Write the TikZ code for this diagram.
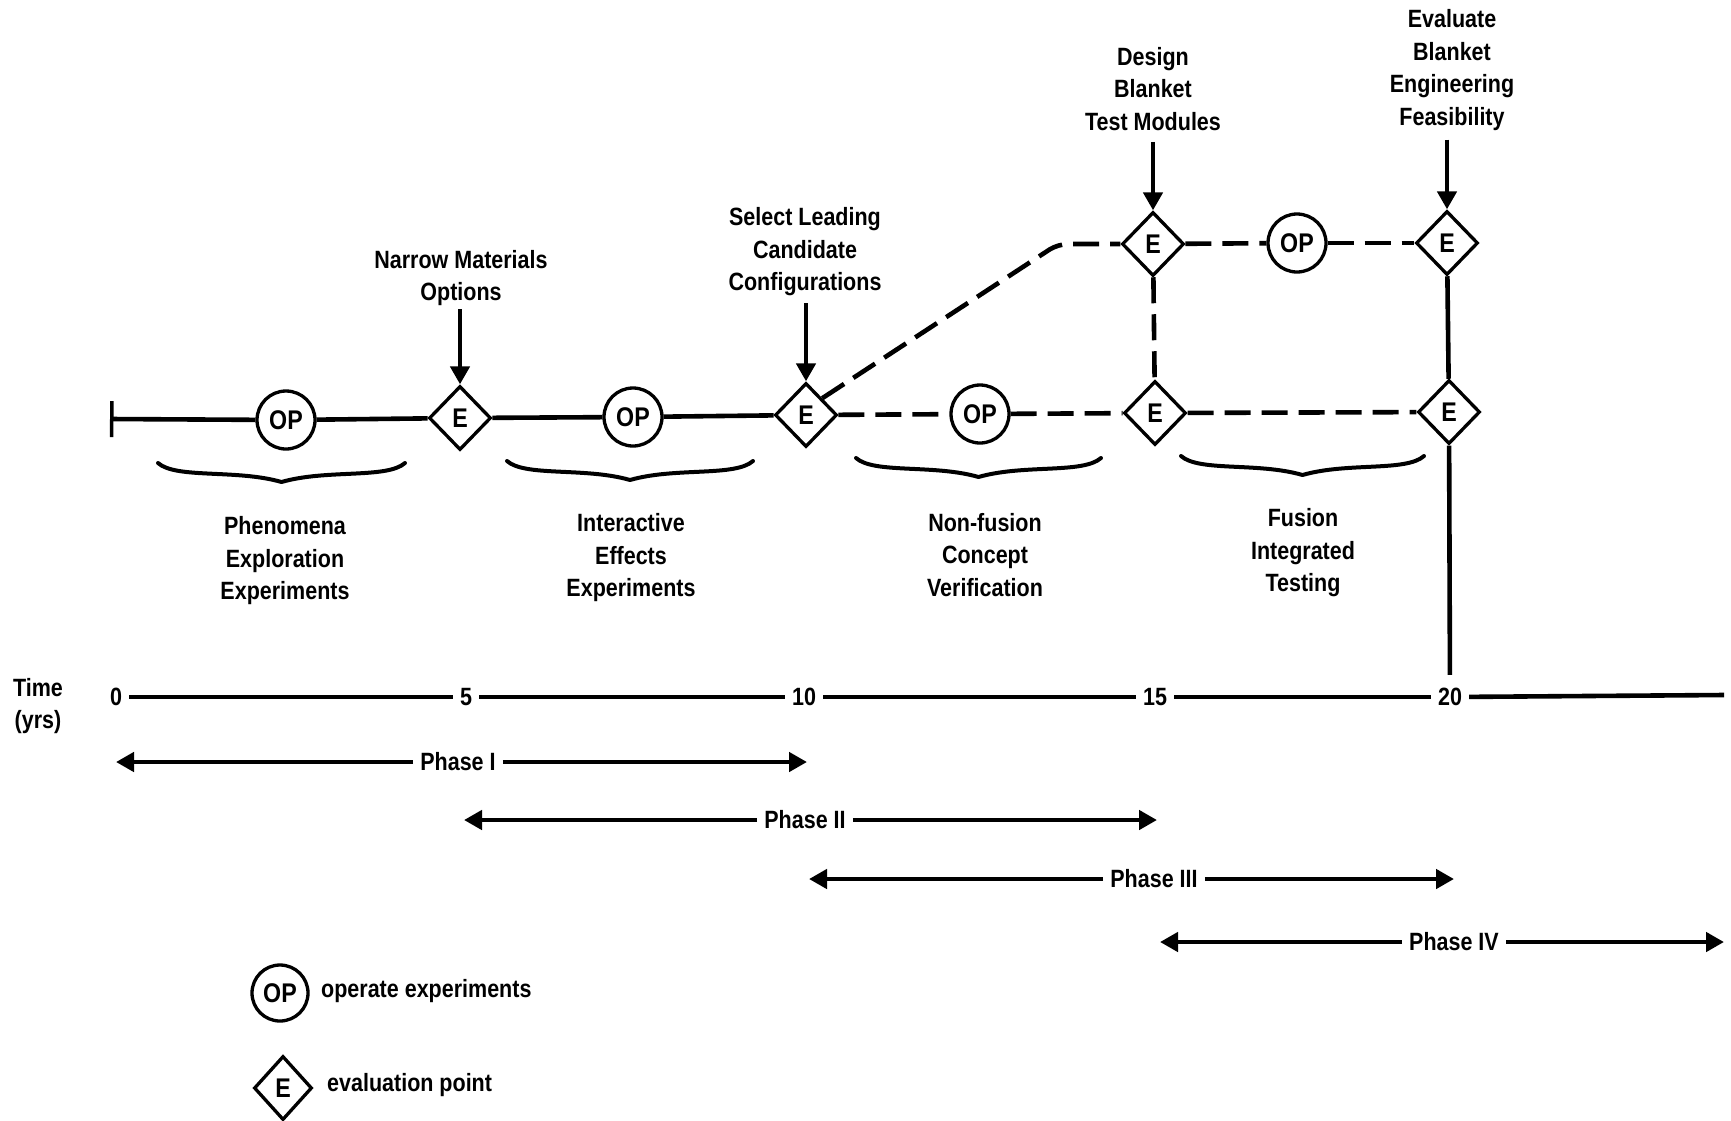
\documentclass[tikz,border=0pt]{standalone}
\usepackage{fontspec}
\setmainfont{Liberation Sans}[FakeStretch=0.86]
\usetikzlibrary{arrows.meta,shapes.geometric}
\begin{document}
\begin{tikzpicture}[x=1pt,y=-1pt,
  txt/.style={font=\fontsize{25}{32.5}\selectfont\bfseries, align=center, inner sep=3pt},
  opnode/.style={circle, draw, line width=3.3pt, minimum size=58pt, inner sep=0pt, font=\fontsize{27}{30}\selectfont\bfseries},
  evnode/.style={diamond, draw, line width=3.3pt, minimum width=62pt, minimum height=64pt, inner sep=0pt, font=\fontsize{27}{30}\selectfont\bfseries},
  solidln/.style={line width=4.6pt},
  dashln/.style={line width=4.6pt, dash pattern=on 26pt off 11pt},
  arr/.style={line width=4.6pt, -{Triangle[length=18pt,width=19pt]}},
  brcline/.style={line width=4pt, line cap=round, line join=round},
  tick/.style={font=\fontsize{25}{30}\selectfont\bfseries, inner sep=7pt},
]
\useasboundingbox (0,0) rectangle (1731,1120);

% ---- main process line ----
\coordinate (start) at (110,419);
\node[opnode] (OP1) at (286,420) {OP};
\node[evnode] (E1) at (460,418) {E};
\node[opnode] (OP2) at (633,417) {OP};
\node[evnode] (E2) at (806,415) {E};
\node[opnode] (OP3) at (980,414) {OP};
\node[evnode] (E3) at (1155,413) {E};
\node[evnode] (E4) at (1449,412) {E};
\node[evnode] (E5) at (1153,244) {E};
\node[opnode] (OP4) at (1297,243) {OP};
\node[evnode] (E6) at (1447,243) {E};
\coordinate (bend) at (1058,244);

\draw[solidln, {Bar[width=36pt,line width=3.5pt]}-] (start) -- (OP1);
\draw[solidln] (OP1) -- (E1);
\draw[solidln] (E1) -- (OP2);
\draw[solidln] (OP2) -- (E2);
\draw[dashln] (E2) -- (OP3);
\draw[dashln] (OP3) -- (E3);
\draw[dashln] (E3) -- (E4);
\draw[dashln, rounded corners=10pt] (E2.north east) -- (bend) -- (E5);
\draw[dashln] (E5) -- (OP4);
\draw[dashln] (OP4) -- (E6);
\draw[dashln] (E5) -- (E3);
\draw[solidln] (E6) -- (E4);

% ---- top labels ----
\node[txt] (T1) at (461,278) {Narrow Materials\\Options};
\node[txt] (T2) at (805,252) {Select Leading\\Candidate\\Configurations};
\node[txt] (T3) at (1153,89) {Design\\Blanket\\Test Modules};
\node[txt] (T4) at (1452,70) {Evaluate\\Blanket\\Engineering\\Feasibility};
\draw[arr] (T1.south -| E1) -- (E1.north);
\draw[arr] (T2.south -| E2) ++(0,4) -- (E2.north);
\draw[arr] (T3.south -| E5) ++(0,8) -- (E5.north);
\draw[arr] (T4.south -| E6) ++(0,6) -- (E6.north);

% ---- braces ----
\foreach \a/\b/\c in {158/405/466, 507/753/464, 856/1101/461, 1181/1424/459}{
  \pgfmathsetmacro\m{(\a+\b)/2}
  \draw[brcline] (\a,\c-3) .. controls (\a+18,\c+13) and (\m-45,\c+3) .. (\m,\c+16)
        .. controls (\m+45,\c+3) and (\b-18,\c+13) .. (\b,\c-3);
}

\node[txt] (L1) at (285,561) {Phenomena\\Exploration\\Experiments};
\node[txt] (L2) at (631,558) {Interactive\\Effects\\Experiments};
\node[txt] (L3) at (985,555) {Non-fusion\\Concept\\Verification};
\node[txt] (L4) at (1303,553) {Fusion\\Integrated\\Testing};

% ---- time axis ----
\node[txt] (time) at (38,706) {Time\\(yrs)};
\node[tick] (t0) at (116,697) {0};
\node[tick] (t5) at (466,697) {5};
\node[tick] (t10) at (804,697) {10};
\node[tick] (t15) at (1155,697) {15};
\node[tick] (t20) at (1450,697) {20};
\coordinate (tend) at (1724,695);
\draw[solidln] (t0) -- (t5);
\draw[solidln] (t5) -- (t10);
\draw[solidln] (t10) -- (t15);
\draw[solidln] (t15) -- (t20);
\draw[solidln] (t20) -- (tend);
\draw[solidln, shorten >=6pt] (E4) -- (t20);

% ---- phases ----
\node[tick] (ph1) at (458,762) {Phase I};
\coordinate (p1l) at (116,762); \coordinate (p1r) at (807,762);
\draw[arr] (ph1) -- (p1l); \draw[arr] (ph1) -- (p1r);
\node[tick] (ph2) at (805,820) {Phase II};
\coordinate (p2l) at (464,820); \coordinate (p2r) at (1157,820);
\draw[arr] (ph2) -- (p2l); \draw[arr] (ph2) -- (p2r);
\node[tick] (ph3) at (1154,879) {Phase III};
\coordinate (p3l) at (809,879); \coordinate (p3r) at (1454,879);
\draw[arr] (ph3) -- (p3l); \draw[arr] (ph3) -- (p3r);
\node[tick] (ph4) at (1454,942) {Phase IV};
\coordinate (p4l) at (1160,942); \coordinate (p4r) at (1724,942);
\draw[arr] (ph4) -- (p4l); \draw[arr] (ph4) -- (p4r);

% ---- legend ----
\node[opnode, minimum size=56pt] (LOP) at (280,993) {OP};
\node[txt, anchor=west] (LOPt) at (318,991) {operate experiments};
\node[evnode, minimum width=58pt] (LE) at (283,1088) {E};
\node[txt, anchor=west] (LEt) at (324,1085) {evaluation point};
\end{tikzpicture}
\end{document}
